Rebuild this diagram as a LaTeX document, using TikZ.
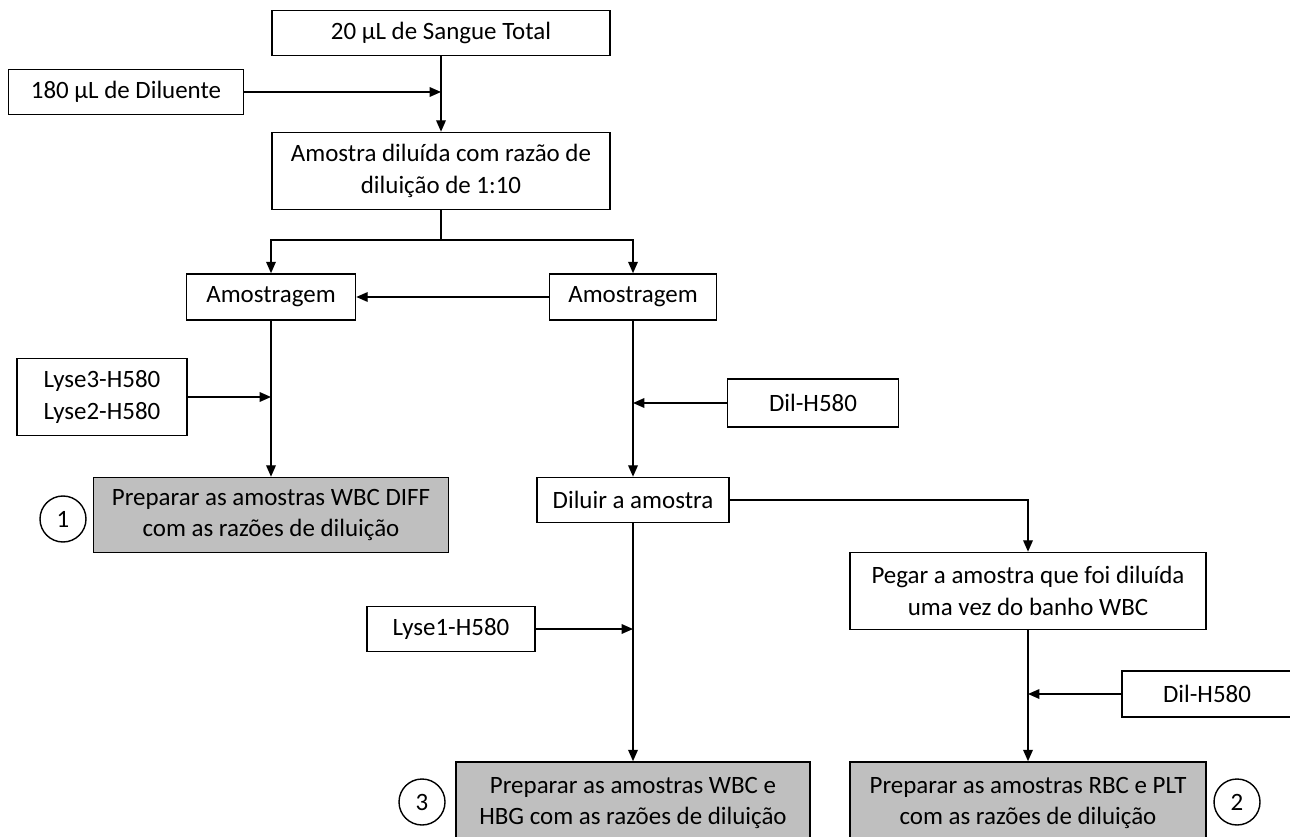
\documentclass[tikz,border=0pt]{standalone}
\usepackage{fontspec}
\setmainfont{Carlito}
\usepackage{tikz}
\usetikzlibrary{arrows.meta,positioning}
\usepackage{xcolor}
\definecolor{prepgray}{RGB}{191,191,191}

\tikzset{
  caixa/.style={draw, line width=0.9pt, rectangle, align=center, inner sep=2pt},
  prep/.style={caixa, fill=prepgray},
  num/.style={draw, line width=0.8pt, circle, minimum size=46\unitpx},
  seta/.style={line width=0.8pt, -{Triangle[length=6.5pt,width=5.5pt]}},
  linha/.style={line width=0.8pt}
}
\newlength{\unitpx}
\setlength{\unitpx}{0.02cm}

\begin{document}
\begin{tikzpicture}[x=0.02cm, y=-0.02cm, font=\fontsize{14.2}{18.2}\selectfont]
\useasboundingbox (0,0) rectangle (1290,837);

% coluna de entrada
\node (total) at (441,33) [caixa, minimum width=338\unitpx, minimum height=45\unitpx] {20 µL de Sangue Total};
\node (dilu) at (126,92) [caixa, minimum width=235\unitpx, minimum height=45\unitpx] {180 µL de Diluente};
\node (diluida) at (441,171) [caixa, minimum width=338\unitpx, minimum height=77\unitpx] {Amostra diluída com razão de\\diluição de 1:10};
\coordinate (br) at (441,240);

% amostragem
\node (amosL) at (271,297) [caixa, minimum width=169\unitpx, minimum height=46\unitpx] {Amostragem};
\node (amosR) at (633,297) [caixa, minimum width=167\unitpx, minimum height=46\unitpx] {Amostragem};
\node (lyse23) at (102,397) [caixa, minimum width=170\unitpx, minimum height=77\unitpx] {Lyse3-H580\\Lyse2-H580};
\node (dilA) at (813,403) [caixa, minimum width=171\unitpx, minimum height=48\unitpx] {Dil-H580};

% ramo WBC DIFF
\node (diff) at (271,515) [prep, minimum width=355\unitpx, minimum height=75\unitpx] {Preparar as amostras WBC DIFF\\com as razões de diluição};
\node (c1) at (63,519) [num] {1};

% ramo WBC/HBG e RBC/PLT
\node (diluir) at (633,500) [caixa, minimum width=192\unitpx, minimum height=45\unitpx] {Diluir a amostra};
\node (pegar) at (1028,591) [caixa, minimum width=356\unitpx, minimum height=77\unitpx] {Pegar a amostra que foi diluída\\uma vez do banho WBC};
\node (lyse1) at (451,629) [caixa, minimum width=168\unitpx, minimum height=45\unitpx] {Lyse1-H580};
\node (dilB) at (1207,694) [caixa, minimum width=170\unitpx, minimum height=46\unitpx] {Dil-H580};
\node (wbc) at (633,803) [prep, minimum width=354\unitpx, minimum height=82\unitpx] {Preparar as amostras WBC e\\HBG com as razões de diluição};
\node (rbc) at (1028,803) [prep, minimum width=356\unitpx, minimum height=82\unitpx] {Preparar as amostras RBC e PLT\\com as razões de diluição};
\node (c3) at (422,802) [num] {3};
\node (c2) at (1237,802) [num] {2};

% ligacoes
\draw [seta] (total) -- (diluida);
\draw [seta] (dilu.east) -- (dilu.east -| total.south);
\draw [linha] (diluida.south) -- (br);
\draw [seta] (br) -| (amosL.north);
\draw [seta] (br) -| (amosR.north);
\draw [seta] (amosR.west) -- (amosL.east);
\draw [seta] (amosL) -- (diff);
\draw [seta] (lyse23.east) -- (lyse23.east -| amosL.south);
\draw [seta] (amosR) -- (diluir);
\draw [seta] (dilA.west) -- (dilA.west -| amosR.south);
\draw [seta] (diluir.east) -| (pegar.north);
\draw [seta] (diluir) -- (wbc);
\draw [seta] (lyse1.east) -- (lyse1.east -| diluir.south);
\draw [seta] (pegar) -- (rbc);
\draw [seta] (dilB.west) -- (dilB.west -| pegar.south);
\end{tikzpicture}
\end{document}
